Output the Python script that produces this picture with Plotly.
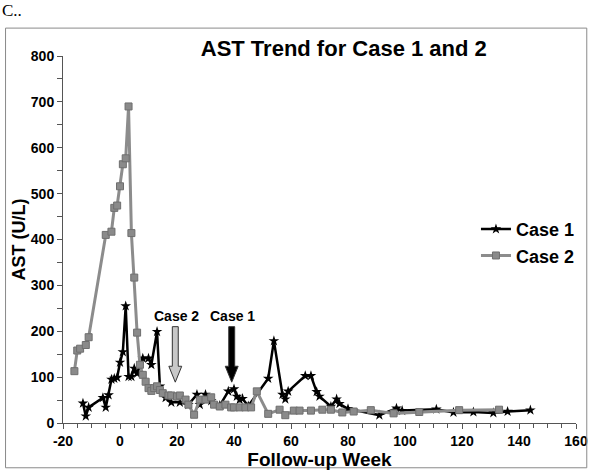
import plotly.graph_objects as go

# Case 1 (black line, star markers)
case1_week = [-13, -12, -11, -6, -5, -4, -3, -2, -1, 0, 1, 2, 3, 4, 5, 6, 8, 10, 11, 13,
              14, 16, 18, 21, 24, 27, 28, 30, 32, 35, 38, 40, 41, 42, 43, 45, 52, 54,
              57, 58, 59, 65, 67, 69, 70, 74, 76, 77, 80, 91, 97, 99, 111, 117, 124,
              131, 136, 144]
case1_ast = [43, 15, 34, 55, 34, 61, 95, 97, 99, 132, 155, 255, 101, 101, 119, 108, 141, 141, 127, 199,
             80, 55, 45, 45, 40, 62, 40, 62, 48, 38, 69, 74, 58, 51, 53, 37, 97, 179,
             62, 52, 69, 103, 103, 68, 58, 36, 52, 42, 31, 17, 32, 27, 30, 23, 24,
             22, 25, 28]

# Case 2 (gray line, square markers)
case2_week = [-16, -15, -14, -12, -11, -5, -3, -2, -1, 0, 1, 2, 3, 4, 5, 6, 7, 8, 9, 10,
              11, 12, 13, 14, 15, 17, 18, 20, 21, 23, 24, 26, 28, 30, 32, 33, 35, 37, 39,
              40, 42, 44, 46, 48, 52, 56, 58, 61, 63, 67, 71, 74, 78, 82, 88, 96, 105,
              119, 133]
case2_ast = [113, 158, 162, 170, 187, 410, 417, 469, 474, 516, 564, 577, 690, 414, 317, 197, 127, 105, 90, 76,
             70, 76, 80, 72, 65, 60, 60, 58, 60, 51, 40, 18, 51, 51, 56, 40, 36, 40, 34,
             34, 34, 34, 34, 69, 20, 29, 17, 27, 27, 27, 29, 29, 23, 25, 28, 21, 24,
             28, 29]

x_ticks = [-20, 0, 20, 40, 60, 80, 100, 120, 140, 160]
x_labels = ["-20", "0", "20", "40", "60", "80", "100", "120", "140", "160"]

# arrow markers: (label, week, top, tip, fill)
arrows = [("Case 2", 19.4, 210, 89, "#c8c8c8"), ("Case 1", 39.2, 210, 89, "#000000")]

fig = go.Figure()
fig.add_trace(go.Scatter(x=case1_week, y=case1_ast, name="Case 1", mode="lines+markers",
                         line=dict(color="black", width=2.5),
                         marker=dict(symbol="star", size=8, color="black")))
fig.add_trace(go.Scatter(x=case2_week, y=case2_ast, name="Case 2", mode="lines+markers",
                         line=dict(color="#8c8c8c", width=3),
                         marker=dict(symbol="square", size=7, color="#8a8a8a",
                                     line=dict(color="#6e6e6e", width=1))))

# px per data unit in plot area (518 x 369 px)
kx, ky = 518 / 180, 369 / 800
for label, xc, top, tip, fill in arrows:
    sw, hw, hh = 3.0 / kx, 6.5 / kx, 16 / ky
    path = (f"M {xc-sw},{top} L {xc+sw},{top} L {xc+sw},{tip+hh} L {xc+hw},{tip+hh} "
            f"L {xc},{tip} L {xc-hw},{tip+hh} L {xc-sw},{tip+hh} Z")
    fig.add_shape(type="path", path=path, xref="x", yref="y",
                  fillcolor=fill, line=dict(color="#333333", width=1))
    fig.add_annotation(x=xc + 0.4, y=top + 24, text=label, showarrow=False,
                       font=dict(size=14, family="Liberation Sans, Arial", color="black", weight="bold"))

bold = dict(family="Liberation Sans, Arial", color="black", weight="bold")

fig.add_annotation(x=-0.122, y=1.125, xref="paper", yref="paper", text="C..",
                   showarrow=False, xanchor="left", yanchor="middle",
                   font=dict(family="Liberation Serif, Times New Roman", size=17, color="black"))

# outer frame
fig.add_shape(type="rect", xref="paper", yref="paper", x0=-0.112, x1=1.021, y0=-0.122, y1=1.076,
              line=dict(color="#8a8a8a", width=1))

fig.update_layout(
    width=600, height=476,
    margin=dict(l=63, r=19, t=56, b=51),
    paper_bgcolor="white", plot_bgcolor="white",
    font=dict(family="Liberation Sans, Arial", size=14, color="black"),
    title=dict(text="AST Trend for Case 1 and 2", x=0.573, xanchor="center",
               y=0.899, yanchor="middle", font=dict(size=22, **bold)),
    legend=dict(x=0.805, y=0.578, xanchor="left", yanchor="top", bgcolor="rgba(0,0,0,0)",
                font=dict(size=18, **bold), tracegroupgap=0),
    xaxis=dict(range=[-20, 160], tickvals=x_ticks, ticktext=x_labels, showgrid=False, zeroline=False,
               showline=True, linecolor="#555555", ticks="outside", ticklen=5, tickcolor="#555555",
               minor=dict(dtick=5, ticks="outside", ticklen=4, tickcolor="#555555"),
               tickfont=dict(size=14, **bold),
               title=dict(text="Follow-up Week", font=dict(size=19, **bold), standoff=2)),
    yaxis=dict(range=[0, 800], dtick=100, showgrid=False, zeroline=False,
               showline=True, linecolor="#555555", ticks="outside", ticklen=5, tickcolor="#555555",
               minor=dict(dtick=50, ticks="outside", ticklen=5, tickcolor="#555555"),
               tickfont=dict(size=14, **bold),
               title=dict(text="AST (U/L)", font=dict(size=18, **bold), standoff=0)),
)

fig.write_html("out.html", config={"displayModeBar": False},
               post_script="document.body.style.margin='0';")
